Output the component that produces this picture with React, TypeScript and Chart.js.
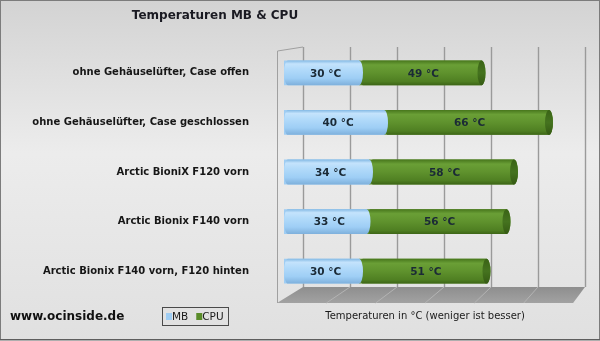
import React, { useEffect, useRef } from "react";
import { Chart, registerables } from "chart.js";

Chart.register(...registerables);

const categories = [
  "ohne Gehäuselüfter, Case offen",
  "ohne Gehäuselüfter, Case geschlossen",
  "Arctic BioniX F120 vorn",
  "Arctic Bionix F140 vorn",
  "Arctic Bionix F140 vorn, F120 hinten",
];
const mbValues = [30, 40, 34, 33, 30];
const cpuValues = [49, 66, 58, 56, 51];
const seriesLabels = ["MB", "CPU"];
const chartTitle = "Temperaturen MB & CPU";
const axisTitle = "Temperaturen in °C (weniger ist besser)";
const siteLabel = "www.ocinside.de";
const unitLabel = "°C";
const xMin = 0;
const xMax = 120;
const xStep = 20;

const MB_COLOR = "#9fcdf3";
const CPU_COLOR = "#5a8c2a";

const BLUE_STOPS: [number, string][] = [
  [0, "#83b9e4"],
  [0.14, "#c4e3fc"],
  [0.35, "#b3dbfa"],
  [0.72, "#9ecef5"],
  [1, "#7eb0dc"],
];
const GREEN_STOPS: [number, string][] = [
  [0, "#47761c"],
  [0.18, "#6a9f36"],
  [0.5, "#5f922d"],
  [0.85, "#4f7f22"],
  [1, "#3d6517"],
];
const CAP_STOPS: [number, string][] = [
  [0, "#3a6316"],
  [0.5, "#45731f"],
  [1, "#355a13"],
];

function grad(ctx: CanvasRenderingContext2D, top: number, bottom: number, stops: [number, string][]) {
  const g = ctx.createLinearGradient(0, top, 0, bottom);
  stops.forEach(([o, c]) => g.addColorStop(o, c));
  return g;
}

function drawCylinder(
  ctx: CanvasRenderingContext2D,
  x0: number,
  x1: number,
  yc: number,
  h: number,
  stops: [number, string][],
  withCap: boolean
) {
  const rx = 4;
  const ry = h / 2;
  const top = yc - ry;
  const bottom = yc + ry;
  ctx.save();
  ctx.beginPath();
  ctx.moveTo(x0 + rx, top);
  ctx.lineTo(x1, top);
  ctx.ellipse(x1, yc, rx, ry, 0, -Math.PI / 2, Math.PI / 2, false);
  ctx.lineTo(x0 + rx, bottom);
  ctx.ellipse(x0 + rx, yc, rx, ry, 0, Math.PI / 2, (3 * Math.PI) / 2, false);
  ctx.closePath();
  ctx.fillStyle = grad(ctx, top, bottom, stops);
  ctx.fill();
  if (withCap) {
    ctx.beginPath();
    ctx.ellipse(x1, yc, rx, ry, 0, 0, Math.PI * 2);
    ctx.fillStyle = grad(ctx, top, bottom, CAP_STOPS);
    ctx.fill();
  }
  ctx.restore();
}

const decorPlugin = {
  id: "decor",
  beforeDraw(chart: any) {
    const { ctx, width, height } = chart;
    ctx.save();
    const g = ctx.createLinearGradient(0, 0, 0, height);
    g.addColorStop(0, "#d3d3d3");
    g.addColorStop(0.45, "#ececec");
    g.addColorStop(1, "#e0e0e0");
    ctx.fillStyle = g;
    ctx.fillRect(0, 0, width, height);
    ctx.strokeStyle = "#7c7c7c";
    ctx.lineWidth = 1;
    ctx.strokeRect(0.5, 0.5, width - 1, height - 1.5);
    ctx.strokeStyle = "#5e5e5e";
    ctx.beginPath();
    ctx.moveTo(0, height - 1.5);
    ctx.lineTo(width, height - 1.5);
    ctx.stroke();
    ctx.restore();
  },
  beforeDatasetsDraw(chart: any) {
    const { ctx, chartArea: a } = chart;
    const xs = chart.scales.x;
    const values: number[] = [];
    for (let v = xMin; v <= xMax; v += xStep) values.push(v);
    const depth = 19;
    const k = 0.94;
    const wallTop = a.top - 1;
    const floorBack = a.bottom - 9;
    const floorFront = a.bottom + 7;
    const back = (v: number) => a.left + depth + (xs.getPixelForValue(v) - a.left) * k;
    const front = (v: number) => a.left - 7 + (xs.getPixelForValue(v) - a.left) * 0.987;
    ctx.save();
    // floor
    ctx.beginPath();
    ctx.moveTo(front(xMin), floorFront);
    ctx.lineTo(back(xMin), floorBack);
    ctx.lineTo(back(xMax), floorBack);
    ctx.lineTo(front(xMax), floorFront);
    ctx.closePath();
    const fg = ctx.createLinearGradient(0, floorBack, 0, floorFront);
    fg.addColorStop(0, "#8e8e8e");
    fg.addColorStop(1, "#a2a2a2");
    ctx.fillStyle = fg;
    ctx.fill();
    ctx.strokeStyle = "#b4b4b4";
    ctx.lineWidth = 1;
    values.forEach((v) => {
      if (v === xMin || v === xMax) return;
      ctx.beginPath();
      ctx.moveTo(back(v), floorBack);
      ctx.lineTo(front(v), floorFront);
      ctx.stroke();
    });
    // back wall grid lines
    ctx.strokeStyle = "#9a9a9a";
    ctx.lineWidth = 1.4;
    values.forEach((v) => {
      const x = Math.round(back(v)) + 0.5;
      ctx.beginPath();
      ctx.moveTo(x, wallTop);
      ctx.lineTo(x, floorBack);
      ctx.stroke();
    });
    // left side wall
    ctx.strokeStyle = "#a0a0a0";
    ctx.lineWidth = 1;
    const lx = Math.round(front(xMin)) + 0.5;
    ctx.beginPath();
    ctx.moveTo(back(xMin), wallTop);
    ctx.lineTo(lx, wallTop + 4);
    ctx.lineTo(lx, floorFront);
    ctx.stroke();
    ctx.restore();
  },
  afterDatasetsDraw(chart: any) {
    const { ctx } = chart;
    const m0 = chart.getDatasetMeta(0);
    const m1 = chart.getDatasetMeta(1);
    const n = chart.data.labels.length;
    for (let i = 0; i < n; i++) {
      const cpu = m1.data[i].getProps(["x", "y", "base", "height"], true);
      const mb = m0.data[i].getProps(["x", "y", "base", "height"], true);
      drawCylinder(ctx, cpu.base, cpu.x, cpu.y, cpu.height, GREEN_STOPS, true);
      drawCylinder(ctx, mb.base, mb.x, mb.y, mb.height, BLUE_STOPS, false);
      ctx.save();
      ctx.font = "bold 10.5px 'DejaVu Sans'";
      ctx.fillStyle = "#1b2a36";
      ctx.textAlign = "center";
      ctx.textBaseline = "middle";
      ctx.fillText(`${chart.data.datasets[0].data[i]} ${unitLabel}`, (mb.base + mb.x) / 2 + 4, mb.y + 1);
      ctx.fillText(`${chart.data.datasets[1].data[i]} ${unitLabel}`, (cpu.base + cpu.x) / 2 + 3, cpu.y + 1);
      ctx.restore();
    }
  },
  afterDraw(chart: any) {
    const { ctx, chartArea: a } = chart;
    const xs = chart.scales.x;
    ctx.save();
    // title
    ctx.fillStyle = "#1a1a22";
    ctx.font = "bold 12px 'DejaVu Sans'";
    ctx.textAlign = "center";
    ctx.textBaseline = "middle";
    ctx.fillText(chartTitle, 215, 16);
    // site label
    ctx.textAlign = "left";
    ctx.font = "bold 12px 'DejaVu Sans'";
    ctx.fillStyle = "#111111";
    ctx.fillText(siteLabel, 10, 317);
    // axis title, centred on floor front edge
    const fl = a.left - 7;
    const fr = a.left - 7 + (xs.getPixelForValue(xMax) - a.left) * 0.987;
    ctx.textAlign = "center";
    ctx.font = "10px 'DejaVu Sans'";
    ctx.fillStyle = "#1a1a1a";
    ctx.fillText(axisTitle, (fl + fr) / 2, 316);
    // legend
    ctx.strokeStyle = "#4a4a4a";
    ctx.lineWidth = 1;
    ctx.strokeRect(162.5, 307.5, 66, 18);
    ctx.font = "10.5px 'DejaVu Sans'";
    ctx.textAlign = "left";
    let lx = 166;
    chart.data.datasets.forEach((ds: any) => {
      ctx.fillStyle = ds.backgroundColor;
      ctx.fillRect(lx, 313, 6, 7);
      ctx.fillStyle = "#1a1a1a";
      ctx.fillText(ds.label, lx + 6, 317);
      lx += 6 + ctx.measureText(ds.label).width + 8;
    });
    ctx.restore();
  },
};

export default function App() {
  const ref = useRef<HTMLCanvasElement | null>(null);
  useEffect(() => {
    if (!ref.current) return;
    const chart = new Chart(ref.current, {
      type: "bar",
      data: {
        labels: categories,
        datasets: [
          { label: seriesLabels[0], data: mbValues, backgroundColor: MB_COLOR, borderWidth: 0 },
          { label: seriesLabels[1], data: cpuValues, backgroundColor: CPU_COLOR, borderWidth: 0 },
        ],
      },
      options: {
        indexAxis: "y",
        responsive: false,
        animation: false,
        events: [],
        layout: { padding: { top: 48, right: 16, bottom: 45, left: 0 } },
        datasets: { bar: { barPercentage: 1, categoryPercentage: 0.5 } },
        plugins: {
          legend: { display: false },
          title: { display: false },
          tooltip: { enabled: false },
        },
        scales: {
          x: {
            display: false,
            stacked: true,
            min: xMin,
            max: xMax,
            ticks: { stepSize: xStep },
          },
          y: {
            stacked: true,
            grid: { display: false, drawTicks: false },
            border: { display: false },
            ticks: {
              color: "#161616",
              padding: 35,
              font: { family: "DejaVu Sans", size: 10, weight: "bold" },
            },
            afterFit: (axis: any) => {
              axis.width = 284;
            },
          },
        },
      } as any,
      plugins: [decorPlugin],
    });
    return () => chart.destroy();
  }, []);
  return (
    <div style={{ position: "fixed", left: 0, top: 0, width: 600, height: 341 }}>
      <canvas ref={ref} width={600} height={341} style={{ display: "block" }} />
    </div>
  );
}
